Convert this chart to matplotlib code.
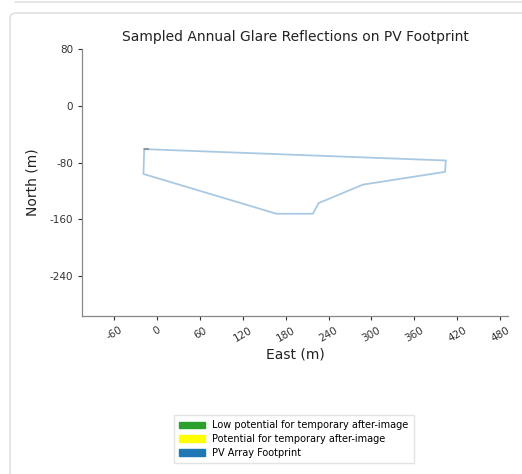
import matplotlib

matplotlib.use("Agg")
import matplotlib.pyplot as plt
from matplotlib.patches import Patch, FancyBboxPatch
from matplotlib.lines import Line2D

# PV footprint outline (East, North) in metres
footprint_east = [-18, 404, 403, 288, 226, 218, 167, -19, -18]
footprint_north = [-61, -77, -93, -111, -137, -152, -152, -96, -61]

# tiny sampled glare segment at the north-west corner
glare_east = [-17, -12]
glare_north = [-61, -61]

x_ticks = [-60, 0, 60, 120, 180, 240, 300, 360, 420, 480]
y_ticks = [80, 0, -80, -160, -240]

legend_labels = [
    "Low potential for temporary after-image",
    "Potential for temporary after-image",
    "PV Array Footprint",
]
legend_colors = ["#2ca02c", "#ffff00", "#1f77b4"]

plt.rcParams["axes.unicode_minus"] = False

W, H = 522, 474
fig = plt.figure(figsize=(W / 100, H / 100), dpi=100)

# card background of the screenshot
card = FancyBboxPatch(
    (10 / W, -0.05), (530 - 10) / W, (H - 13) / H + 0.05,
    boxstyle="round,pad=0,rounding_size=0.012",
    transform=fig.transFigure, facecolor="white", edgecolor="#dcdcdc", lw=1.0,
    zorder=-10,
)
fig.patches.append(card)
fig.add_artist(Line2D([15 / W, 1.0], [1 - 1.5 / H, 1 - 1.5 / H],
                      transform=fig.transFigure, color="#e2e2e2", lw=1.2, zorder=-10))

ax = fig.add_axes([82 / W, (H - 316) / H, 426 / W, 267 / H])
ax.patch.set_alpha(0)
ax.plot(footprint_east, footprint_north, color="#a9c9e3", lw=1.3)
ax.plot(glare_east, glare_north, color="#888888", lw=1.2)

ax.set_xlim(-105, 491)
ax.set_ylim(-296, 80)
ax.set_xticks(x_ticks)
ax.set_yticks(y_ticks)
ax.tick_params(labelsize=7.5, colors="#333333", length=3, width=0.8)
ax.tick_params(axis="x", rotation=30)
for lbl in ax.get_xticklabels():
    lbl.set_horizontalalignment("center")

for side in ["top", "right"]:
    ax.spines[side].set_visible(False)
for side in ["left", "bottom"]:
    ax.spines[side].set_color("#888888")
    ax.spines[side].set_linewidth(0.9)

ax.set_title("Sampled Annual Glare Reflections on PV Footprint", fontsize=10, color="#222222", pad=6)
ax.set_xlabel("East (m)", fontsize=10, color="#222222", labelpad=3)
ax.set_ylabel("North (m)", fontsize=10, color="#222222", labelpad=7)

handles = [Patch(facecolor=c, edgecolor=c) for c in legend_colors]
fig.legend(
    handles, legend_labels, loc="center", bbox_to_anchor=(294 / W, 1 - 439 / H),
    fontsize=7, frameon=True, edgecolor="#dddddd", fancybox=False,
    handlelength=2.6, handleheight=0.6, labelspacing=0.4, borderpad=0.55,
)

fig.savefig("out.png", dpi=100)
